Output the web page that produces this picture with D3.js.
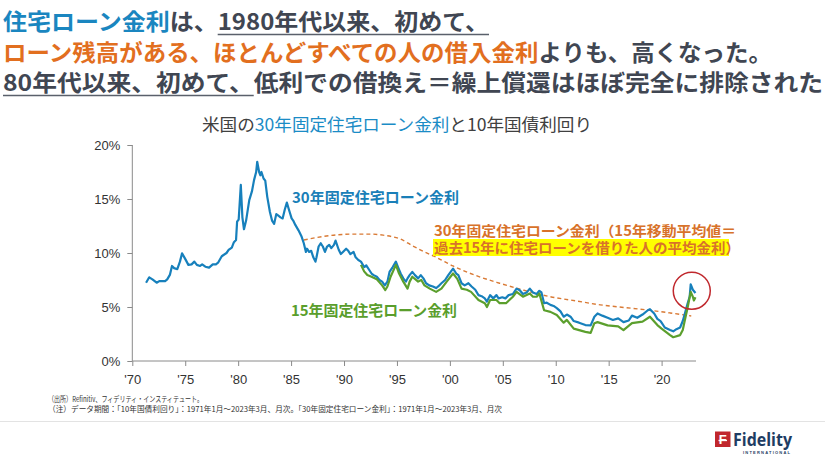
<!DOCTYPE html>
<html><head><meta charset="utf-8">
<script src="https://cdn.jsdelivr.net/npm/d3@7"></script>
<style>
html,body{margin:0;padding:0;background:#fff;}
svg{display:block;}
</style></head>
<body>
<svg id="c" width="825" height="464"></svg>
<script>
// ---------- DATA ----------
const mortgage30Years = [1971.3,1971.6,1971.9,1972.3,1972.55,1973.1,1973.3,1973.56,1973.75,1973.95,1974.25,1974.5,1974.7,1974.97,1975.3,1975.6,1975.86,1976.1,1976.4,1976.6,1976.9,1977.25,1977.6,1977.9,1978.1,1978.45,1978.9,1979.1,1979.4,1979.6,1979.8,1979.9,1980.05,1980.25,1980.4,1980.55,1980.75,1981.05,1981.3,1981.5,1981.7,1981.8,1981.98,1982.1,1982.2,1982.4,1982.56,1982.75,1983.0,1983.2,1983.4,1983.6,1983.8,1984.0,1984.2,1984.4,1984.6,1984.8,1985.05,1985.2,1985.4,1985.7,1986.0,1986.2,1986.4,1986.5,1986.7,1986.9,1987.1,1987.3,1987.4,1987.6,1987.8,1988.0,1988.2,1988.4,1988.6,1988.8,1989.05,1989.2,1989.5,1989.7,1989.9,1990.2,1990.4,1990.6,1990.9,1991.1,1991.35,1991.6,1991.9,1992.1,1992.4,1992.6,1992.8,1993.1,1993.35,1993.6,1993.85,1994.1,1994.3,1994.6,1994.9,1995.1,1995.35,1995.6,1995.85,1996.0,1996.2,1996.45,1996.7,1997.0,1997.25,1997.5,1997.75,1998.05,1998.4,1998.7,1998.9,1999.2,1999.55,1999.85,2000.3,2000.6,2000.8,2001.1,2001.4,2001.75,2002.05,2002.4,2002.7,2003.0,2003.3,2003.5,2003.8,2004.1,2004.4,2004.6,2004.95,2005.25,2005.55,2005.95,2006.3,2006.6,2006.9,2007.25,2007.55,2007.85,2008.2,2008.45,2008.65,2008.9,2009.15,2009.5,2009.8,2010.1,2010.45,2010.75,2011.05,2011.4,2011.7,2012.2,2012.8,2013.3,2013.65,2013.95,2014.4,2014.9,2015.4,2015.9,2016.4,2016.9,2017.2,2017.7,2018.2,2018.7,2018.9,2019.3,2019.6,2019.9,2020.0,2020.3,2020.8,2021.1,2021.4,2021.75,2022.0,2022.2,2022.45,2022.65,2022.75,2022.95,2023.2];
const mortgage30Values = [7.25,7.75,7.56,7.25,7.4,7.4,7.56,8.0,8.8,8.6,8.5,9.2,9.97,9.5,8.9,8.95,9.2,8.9,8.8,8.95,8.73,8.64,8.95,8.95,9.1,9.7,10.0,10.28,10.5,11.0,11.2,12.9,13.1,16.3,13.3,12.2,13.0,14.9,15.7,16.75,17.5,18.45,17.5,17.2,17.5,16.9,16.7,15.2,13.8,13.0,12.7,13.6,13.45,13.3,13.2,14.0,14.66,14.0,13.2,13.0,12.6,12.1,11.5,10.9,10.1,10.4,10.1,10.2,9.6,9.2,9.6,10.6,10.9,10.6,10.1,10.6,10.75,10.45,10.75,11.15,10.3,9.9,10.1,10.4,10.2,9.9,10.1,9.6,9.35,9.2,8.7,8.86,8.4,8.1,7.95,7.8,7.5,7.35,7.0,7.35,8.25,8.7,9.2,8.7,8.1,7.65,7.35,7.65,7.95,8.25,7.95,7.65,7.95,7.65,7.2,7.0,6.9,6.75,6.9,7.2,7.5,7.95,8.55,8.1,7.95,7.2,7.0,7.2,6.9,6.6,6.1,6.0,5.8,5.5,6.1,5.8,6.1,5.8,5.9,5.8,6.1,6.2,6.7,6.55,6.2,6.35,6.7,6.35,6.2,6.5,6.35,5.35,5.4,5.2,5.1,4.9,4.6,4.1,4.3,4.1,3.7,3.55,3.33,3.3,4.1,4.4,4.2,4.0,3.8,3.95,3.6,3.75,4.2,4.0,4.3,4.7,4.8,4.4,3.9,3.7,3.55,3.1,2.87,2.75,2.95,3.1,3.7,4.4,5.3,5.95,7.1,6.6,6.3];

const mortgage15Years = [1991.6,1991.9,1992.2,1992.6,1993.1,1993.6,1993.9,1994.1,1994.4,1994.9,1995.2,1995.6,1996.0,1996.2,1996.45,1997.0,1997.3,1997.6,1998.1,1998.7,1999.2,1999.7,2000.3,2000.7,2001.1,2001.6,2002.0,2002.7,2003.3,2003.5,2003.8,2004.4,2004.7,2005.3,2005.95,2006.3,2006.9,2007.55,2007.85,2008.2,2008.45,2008.9,2009.5,2010.1,2010.75,2011.05,2011.7,2012.8,2013.3,2013.65,2013.95,2014.9,2015.9,2016.4,2017.2,2018.2,2018.9,2019.6,2020.0,2020.8,2021.1,2021.75,2022.0,2022.2,2022.45,2022.75,2022.95,2023.05,2023.2];
const mortgage15Values = [8.9,8.3,7.96,7.8,7.56,7.0,6.57,6.9,7.8,8.9,8.1,7.35,6.7,7.35,7.8,7.35,7.5,7.0,6.7,6.4,6.7,7.35,8.1,7.6,6.7,6.6,6.4,5.65,5.35,5.0,5.65,5.65,5.35,5.35,5.95,6.4,5.95,6.25,5.95,5.95,6.25,4.7,4.55,4.25,3.55,3.8,3.0,2.7,2.6,3.5,3.6,3.3,3.2,2.85,3.5,3.65,4.1,3.33,3.0,2.4,2.2,2.4,2.87,3.8,4.9,6.4,5.95,5.6,5.9];

const movingAvgYears = [1986.2,1987.5,1989.0,1991.0,1992.5,1993.7,1994.6,1995.3,1996.5,1997.5,1998.5,1999.5,2000.3,2002.5,2004.7,2007.0,2009.5,2012.0,2014.2,2016.5,2018.7,2020.8,2022.8];
const movingAvgValues = [11.2,11.45,11.65,11.75,11.75,11.65,11.5,11.3,10.65,10.15,9.7,9.2,8.8,7.9,7.2,6.55,5.95,5.55,5.2,4.95,4.72,4.45,4.17];

const xTickYears = [1970,1975,1980,1985,1990,1995,2000,2005,2010,2015,2020];
const xTickLabels = ["'70","'75","'80","'85","'90","'95","'00","'05","'10","'15","'20"];
const yTickValues = [0,5,10,15,20];
const yTickLabels = ["0%","5%","10%","15%","20%"];
const highlightPoint = {year: 2022.85, value: 6.5};

// ---------- DRAW ----------
const svg = d3.select("#c");
const JP = "'Noto Sans CJK JP','Noto Sans',sans-serif";
const LAT = "'Liberation Sans',Arial,sans-serif";
const cBlue = "#1a86c0", cOrange = "#e26f1f", cGray = "#404652", cGreen = "#5a9e2c";

// Header (one text block, one tspan per line)
const headLines = [
  {y: 30, len: 486, parts: [["住宅ローン金利", cBlue], ["は、", cGray], ["1980年代以来、初めて、", cGray, true]]},
  {y: 61, len: 769, parts: [["ローン残高がある、ほとんどすべての人の借入金利", cOrange], ["よりも、高くなった。", cGray]]},
  {y: 91, len: 820, parts: [["80年代以来、初めて、", cGray, true], ["低利での借換え＝繰上償還はほぼ完全に排除された", cGray]]}
];
const head = svg.append("text").attr("font-family", JP).attr("font-size", 23).attr("font-weight", 700);
headLines.forEach(L => {
  const lt = head.append("tspan").attr("x", 3).attr("y", L.y)
    .attr("textLength", L.len).attr("lengthAdjust", "spacingAndGlyphs");
  L.parts.forEach(p => lt.append("tspan").attr("fill", p[1]).text(p[0]));
});
{
  let idx = 0;
  const node = head.node();
  headLines.forEach(L => {
    L.parts.forEach(p => {
      const n = p[0].length;
      if (p[2]) {
        const x0 = node.getStartPositionOfChar(idx).x;
        const x1 = node.getEndPositionOfChar(idx + n - 1).x;
        svg.append("line").attr("x1", x0).attr("x2", x1)
          .attr("y1", L.y + 4.5).attr("y2", L.y + 4.5)
          .attr("stroke", "#5a606b").attr("stroke-width", 1.6);
      }
      idx += n;
    });
  });
}

// Chart title
const title = svg.append("text").attr("x", 397).attr("y", 131).attr("text-anchor", "middle")
  .attr("font-family", JP).attr("font-size", 17).attr("fill", "#404040")
  .attr("textLength", 390).attr("lengthAdjust", "spacingAndGlyphs");
title.append("tspan").text("米国の");
title.append("tspan").attr("fill", "#1b8cc6").text("30年固定住宅ローン金利");
title.append("tspan").text("と10年国債利回り");

// Scales
const x = d3.scaleLinear().domain([1970, 2023.25]).range([132.3, 696]);
const y = d3.scaleLinear().domain([0, 20]).range([361, 145]);

// Axes
const axisColor = "#8a8a8a";
const yAxis = svg.append("g").attr("transform", `translate(${x(1970)},0)`)
  .call(d3.axisLeft(y).tickValues(yTickValues).tickSize(5).tickFormat((d,i) => yTickLabels[i]));
const xAxis = svg.append("g").attr("transform", `translate(0,${y(0)})`)
  .call(d3.axisBottom(x).tickValues(xTickYears).tickSize(5).tickFormat((d,i) => xTickLabels[i]));
[xAxis, yAxis].forEach(a => {
  a.select(".domain").attr("stroke", axisColor).attr("stroke-width", 1);
  a.selectAll(".tick line").attr("stroke", axisColor);
  a.selectAll("text").attr("font-family", LAT).attr("font-size", 13).attr("fill", "#333");
});
yAxis.select(".domain").attr("d", `M0,${y(20)}V${y(0)}`);
yAxis.selectAll("text").attr("x", -12);
xAxis.selectAll("text").attr("y", 14);
xAxis.select(".domain").attr("d", `M0,0H${x(2023.25) - x(1970)}`).attr("transform", `translate(${x(1970)},0)`);

// Lines
const line = d3.line().x(d => x(d[0])).y(d => y(d[1]));
const zip = (a, b) => a.map((v, i) => [v, b[i]]);

svg.append("path").datum(zip(movingAvgYears, movingAvgValues))
  .attr("d", d3.line().x(d => x(d[0])).y(d => y(d[1])).curve(d3.curveMonotoneX))
  .attr("fill", "none").attr("stroke", "#d97a35").attr("stroke-width", 1.4).attr("stroke-dasharray", "4,3");

svg.append("path").datum(zip(mortgage30Years, mortgage30Values)).attr("d", line)
  .attr("fill", "none").attr("stroke", "#1780bc").attr("stroke-width", 2.2).attr("stroke-linejoin", "round");
svg.append("path").datum(zip(mortgage15Years, mortgage15Values)).attr("d", line)
  .attr("fill", "none").attr("stroke", "#5b9f2d").attr("stroke-width", 2.2).attr("stroke-linejoin", "round");

// Highlight circle
svg.append("circle").attr("cx", x(highlightPoint.year)).attr("cy", y(highlightPoint.value)).attr("r", 18.5)
  .attr("fill", "none").attr("stroke", "#c0282d").attr("stroke-width", 1.5);

// Annotations
svg.append("text").attr("x", 292).attr("y", 203).attr("font-family", JP).attr("font-size", 15)
  .attr("font-weight", 700).attr("fill", "#1a7fb8").attr("textLength", 167).attr("lengthAdjust", "spacingAndGlyphs")
  .text("30年固定住宅ローン金利");
svg.append("text").attr("x", 291).attr("y", 316).attr("font-family", JP).attr("font-size", 15)
  .attr("font-weight", 700).attr("fill", cGreen).attr("textLength", 166).attr("lengthAdjust", "spacingAndGlyphs")
  .text("15年固定住宅ローン金利");
svg.append("rect").attr("x", 433).attr("y", 239).attr("width", 296).attr("height", 17).attr("fill", "#ffff00");
const maLabel = svg.append("text").attr("font-family", JP).attr("font-size", 14)
  .attr("font-weight", 700).attr("fill", "#d8722a");
maLabel.append("tspan").attr("x", 434).attr("y", 235.5).attr("textLength", 302).attr("lengthAdjust", "spacingAndGlyphs")
  .text("30年固定住宅ローン金利（15年移動平均値＝");
maLabel.append("tspan").attr("x", 434).attr("y", 252.5).attr("textLength", 306).attr("lengthAdjust", "spacingAndGlyphs")
  .text("過去15年に住宅ローンを借りた人の平均金利）");

// Footnotes
const foot = svg.append("text").attr("font-family", JP).attr("font-size", 8).attr("fill", "#333");
foot.append("tspan").attr("x", 48).attr("y", 402).attr("textLength", 155).attr("lengthAdjust", "spacingAndGlyphs")
  .text("（出所）Refinitiv、フィデリティ・インスティテュート。");
foot.append("tspan").attr("x", 48).attr("y", 412).attr("textLength", 454).attr("lengthAdjust", "spacingAndGlyphs")
  .text("（注）データ期間：「10年国債利回り」：1971年1月～2023年3月、月次。「30年固定住宅ローン金利」：1971年1月～2023年3月、月次");

// Footer separator & logo
svg.append("line").attr("x1", 0).attr("x2", 825).attr("y1", 421.5).attr("y2", 421.5).attr("stroke", "#e3e3e3").attr("stroke-width", 1);
svg.append("rect").attr("x", 715).attr("y", 431.5).attr("width", 15.5).attr("height", 15.5).attr("fill", "#c1272d");
svg.append("text").attr("x", 722.8).attr("y", 444).attr("text-anchor", "middle").attr("font-family", LAT)
  .attr("font-size", 13).attr("font-weight", 700).attr("fill", "#fff").text("F");
svg.append("line").attr("x1", 718.5).attr("x2", 727).attr("y1", 440.5).attr("y2", 440.5).attr("stroke", "#fff").attr("stroke-width", 1.3);
svg.append("text").attr("x", 733).attr("y", 446).attr("font-family", "'Open Sans','Liberation Sans',sans-serif")
  .attr("font-size", 17).attr("font-weight", 700).attr("fill", "#1f3d63")
  .attr("textLength", 59).attr("lengthAdjust", "spacingAndGlyphs").text("Fidelity");
svg.append("text").attr("x", 743).attr("y", 454).attr("font-family", LAT)
  .attr("font-size", 4).attr("font-weight", 700).attr("fill", "#1f3d63")
  .attr("textLength", 47).attr("lengthAdjust", "spacing").text("INTERNATIONAL");
</script>
</body></html>
